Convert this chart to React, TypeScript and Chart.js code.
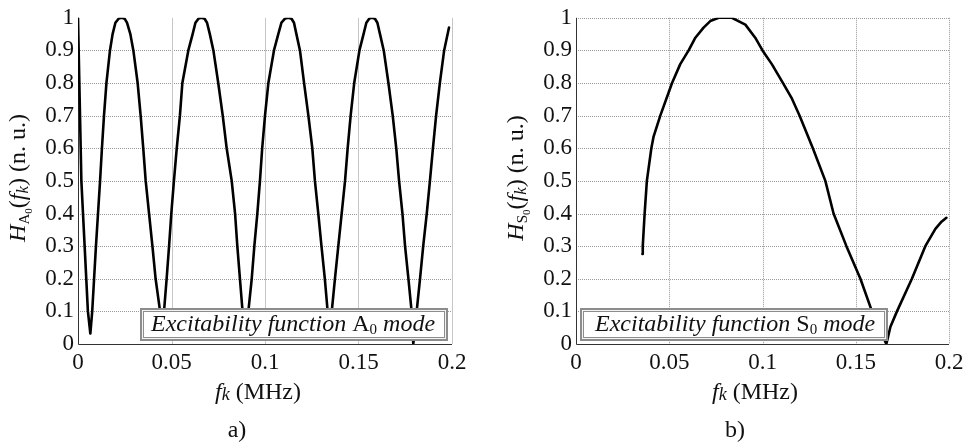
import React, { useEffect, useRef } from 'react';
import { Chart, registerables } from 'chart.js';

Chart.register(...registerables);

const xTickLabels = ['0', '0.05', '0.1', '0.15', '0.2'];
const yTickLabels = ['0', '0.1', '0.2', '0.3', '0.4', '0.5', '0.6', '0.7', '0.8', '0.9', '1'];
const xGridValues = [0.05, 0.1, 0.15, 0.2];

const a0Freq = [
  0, 0.0018, 0.0053, 0.0066,
  0.0076, 0.0086, 0.0096, 0.0107, 0.0118, 0.0128, 0.0139, 0.0152, 0.0171, 0.0185, 0.02, 0.0218,
  0.0234,
  0.025, 0.0262, 0.028, 0.0296, 0.0319, 0.0335, 0.0349, 0.0362, 0.038, 0.0398, 0.0415, 0.0439,
  0.0452,
  0.046, 0.0474, 0.0487, 0.0499, 0.0513, 0.0528, 0.0545, 0.0558, 0.059, 0.0613, 0.0628, 0.0645,
  0.0661,
  0.0677, 0.069, 0.0705, 0.0724, 0.075, 0.0774, 0.0795, 0.0822, 0.084, 0.0852, 0.0866, 0.088,
  0.0895,
  0.0911, 0.0929, 0.0943, 0.0959, 0.0973, 0.0985, 0.1, 0.1018, 0.1048, 0.1071, 0.1088, 0.1108,
  0.1125,
  0.1142, 0.1155, 0.1168, 0.1187, 0.1209, 0.1232, 0.1253, 0.1267, 0.1285, 0.1302, 0.132, 0.1335,
  0.1345,
  0.1357, 0.1374, 0.1392, 0.141, 0.1428, 0.1442, 0.1458, 0.1477, 0.1505, 0.1527, 0.1542, 0.1558,
  0.1572,
  0.1588, 0.1601, 0.1615, 0.1635, 0.166, 0.1683, 0.1702, 0.1717, 0.1735, 0.1749, 0.1767, 0.1784,
  0.1793,
  0.1811, 0.1829, 0.1846, 0.1865, 0.1882, 0.1898, 0.1915, 0.1935, 0.1958, 0.1984,
];
const a0Value = [
  1, 0.5, 0.1, 0.032,
  0.1, 0.2, 0.3, 0.4, 0.5, 0.6, 0.7, 0.8, 0.9, 0.95, 0.985, 0.998,
  1,
  0.997, 0.985, 0.95, 0.9, 0.8, 0.7, 0.6, 0.5, 0.4, 0.3, 0.2, 0.1,
  0.03,
  0.1, 0.2, 0.3, 0.4, 0.5, 0.6, 0.7, 0.8, 0.9, 0.95, 0.985, 0.998,
  1,
  0.997, 0.985, 0.95, 0.9, 0.8, 0.7, 0.6, 0.5, 0.4, 0.3, 0.2, 0.1,
  0.02,
  0.1, 0.2, 0.3, 0.4, 0.5, 0.6, 0.7, 0.8, 0.9, 0.95, 0.985, 0.998,
  1,
  0.997, 0.985, 0.95, 0.9, 0.8, 0.7, 0.6, 0.5, 0.4, 0.3, 0.2, 0.1,
  0.03,
  0.1, 0.2, 0.3, 0.4, 0.5, 0.6, 0.7, 0.8, 0.9, 0.95, 0.985, 0.998,
  1,
  0.997, 0.985, 0.95, 0.9, 0.8, 0.7, 0.6, 0.5, 0.4, 0.3, 0.2, 0.1,
  0,
  0.1, 0.2, 0.3, 0.4, 0.5, 0.6, 0.7, 0.8, 0.9, 0.97,
];

const s0Freq = [
  0.0356, 0.0358, 0.0368, 0.038, 0.0404, 0.0416, 0.0452, 0.0515, 0.0559, 0.0604, 0.064, 0.0684,
  0.072, 0.0765, 0.08, 0.0836, 0.0908, 0.0961, 0.1, 0.105, 0.111, 0.1158, 0.1199, 0.127, 0.1337,
  0.1381, 0.145, 0.1525, 0.1587, 0.1625, 0.1664, 0.1686, 0.1721, 0.1801, 0.1873, 0.1927, 0.196,
  0.1986,
];
const s0Value = [
  0.276, 0.3, 0.4, 0.5, 0.6, 0.636, 0.7, 0.8, 0.858, 0.9, 0.939, 0.97,
  0.99, 1, 1, 1, 0.979, 0.939, 0.9, 0.858, 0.8, 0.752, 0.7, 0.6, 0.5,
  0.4, 0.3, 0.2, 0.1, 0.05, 0, 0.053, 0.1, 0.2, 0.3, 0.353, 0.375,
  0.387,
];

const SERIF = "'Liberation Serif', 'Times New Roman', serif";
const TICK_SIZE = 23;
const TEXT_SIZE = 24;

type Part = { t: string; it?: boolean; size?: number; dy?: number };

const fontOf = (p: Part) => `${p.it ? 'italic ' : ''}${p.size || TEXT_SIZE}px ${SERIF}`;

function drawRich(ctx: CanvasRenderingContext2D, parts: Part[], x: number, y: number, align: 'left' | 'center') {
  const widths = parts.map((p) => {
    ctx.font = fontOf(p);
    return ctx.measureText(p.t).width;
  });
  const total = widths.reduce((a, b) => a + b, 0);
  let cx = align === 'center' ? x - total / 2 : x;
  ctx.textAlign = 'left';
  ctx.textBaseline = 'alphabetic';
  parts.forEach((p, i) => {
    ctx.font = fontOf(p);
    ctx.fillText(p.t, cx, y + (p.dy || 0));
    cx += widths[i];
  });
}

type PanelCfg = {
  yAxisWidth: number;
  padRight: number;
  freq: number[];
  value: number[];
  modeLetter: string;
  yTitleX: number;
  xTitleX: number;
  labelX: number;
  label: string;
  box: [number, number, number, number];
  boxTextX: number;
  topGrid: boolean;
  verticalSolid: boolean;
};

function makeChart(canvas: HTMLCanvasElement, cfg: PanelCfg) {
  const data = cfg.freq.map((f, i) => ({ x: f, y: cfg.value[i] }));
  const overlay = {
    id: 'overlay',
    beforeDatasetsDraw(chart: any) {
      const ctx = chart.ctx as CanvasRenderingContext2D;
      const xs = chart.scales.x;
      const ys = chart.scales.y;
      const { left, right, top, bottom } = chart.chartArea;
      ctx.save();
      ctx.lineWidth = 1;
      ctx.strokeStyle = '#9a9a9a';
      ctx.setLineDash([1, 1]);
      for (let i = 1; i < yTickLabels.length; i++) {
        const v = Number(yTickLabels[i]);
        if (v === 1 && !cfg.topGrid) continue;
        const py = Math.round(ys.getPixelForValue(v)) + 0.5;
        ctx.beginPath();
        ctx.moveTo(left, py);
        ctx.lineTo(right, py);
        ctx.stroke();
      }
      if (cfg.verticalSolid) {
        ctx.setLineDash([]);
        ctx.strokeStyle = '#c6c6c6';
      }
      xGridValues.forEach((v) => {
        const px = Math.round(xs.getPixelForValue(v)) + 0.5;
        ctx.beginPath();
        ctx.moveTo(px, top);
        ctx.lineTo(px, bottom);
        ctx.stroke();
      });
      ctx.setLineDash([]);
      ctx.strokeStyle = '#333';
      ctx.beginPath();
      ctx.moveTo(Math.round(left) + 0.5, top);
      ctx.lineTo(Math.round(left) + 0.5, Math.round(bottom) + 0.5);
      ctx.lineTo(right, Math.round(bottom) + 0.5);
      ctx.stroke();
      ctx.restore();
    },
    afterDraw(chart: any) {
      const ctx = chart.ctx as CanvasRenderingContext2D;
      ctx.save();
      ctx.fillStyle = '#111';
      ctx.save();
      ctx.translate(cfg.yTitleX, 178);
      ctx.rotate(-Math.PI / 2);
      drawRich(
        ctx,
        [
          { t: 'H', it: true },
          { t: cfg.modeLetter, size: 15, dy: 4 },
          { t: '0', size: 11, dy: 7 },
          { t: '(' },
          { t: 'f', it: true },
          { t: 'k', it: true, size: 17, dy: 3 },
          { t: ') (n. u.)' },
        ],
        0,
        0,
        'center'
      );
      ctx.restore();
      drawRich(ctx, [{ t: 'f', it: true }, { t: 'k', it: true, size: 18, dy: 1 }, { t: ' (MHz)' }], cfg.xTitleX, 399, 'center');
      drawRich(ctx, [{ t: cfg.label }], cfg.labelX, 437, 'center');
      const [bx, by, bw, bh] = cfg.box;
      ctx.fillStyle = '#fff';
      ctx.fillRect(bx, by, bw, bh);
      ctx.strokeStyle = '#8c8c8c';
      ctx.lineWidth = 4;
      ctx.strokeRect(bx + 2, by + 2, bw - 4, bh - 4);
      ctx.strokeStyle = '#f4f4f4';
      ctx.lineWidth = 1;
      ctx.strokeRect(bx + 2.5, by + 2.5, bw - 5, bh - 5);
      ctx.fillStyle = '#111';
      drawRich(
        ctx,
        [
          { t: 'Excitability function ', it: true },
          { t: cfg.modeLetter },
          { t: '0', size: 15, dy: 3 },
          { t: ' mode', it: true },
        ],
        cfg.boxTextX,
        by + 23,
        'left'
      );
      ctx.restore();
    },
  };

  return new Chart(canvas, {
    type: 'line',
    data: {
      datasets: [
        {
          data,
          borderColor: '#000',
          borderWidth: 2.6,
          pointRadius: 0,
          tension: 0,
          fill: false,
          borderJoinStyle: 'round',
          borderCapStyle: 'round',
        } as any,
      ],
    },
    options: {
      animation: false,
      responsive: false,
      maintainAspectRatio: false,
      layout: { padding: { left: 0, right: cfg.padRight, top: 13, bottom: 0 } },
      plugins: { legend: { display: false }, tooltip: { enabled: false } },
      scales: {
        x: {
          type: 'linear',
          min: 0,
          max: 0.2,
          afterFit: (s: any) => {
            s.height = 101;
          },
          ticks: {
            stepSize: 0.05,
            autoSkip: false,
            maxRotation: 0,
            padding: 5,
            color: '#111',
            font: { family: SERIF, size: TICK_SIZE },
            callback: (_v: any, i: number) => xTickLabels[i],
          },
          grid: { display: false, drawTicks: false },
          border: { display: false },
        },
        y: {
          type: 'linear',
          min: 0,
          max: 1,
          afterFit: (s: any) => {
            s.width = cfg.yAxisWidth;
          },
          ticks: {
            stepSize: 0.1,
            autoSkip: false,
            padding: 4,
            color: '#111',
            font: { family: SERIF, size: TICK_SIZE },
            callback: (_v: any, i: number) => yTickLabels[i],
          },
          grid: { display: false, drawTicks: false },
          border: { display: false },
        },
      },
    },
    plugins: [overlay as any],
  });
}

export default function App() {
  const leftRef = useRef<HTMLCanvasElement>(null);
  const rightRef = useRef<HTMLCanvasElement>(null);

  useEffect(() => {
    const c1 = makeChart(leftRef.current!, {
      yAxisWidth: 78,
      padRight: 28,
      freq: a0Freq,
      value: a0Value,
      modeLetter: 'A',
      yTitleX: 25,
      xTitleX: 258,
      labelX: 237,
      label: 'a)',
      box: [140, 308, 308, 33],
      boxTextX: 151,
      topGrid: false,
      verticalSolid: true,
    });
    const c2 = makeChart(rightRef.current!, {
      yAxisWidth: 96,
      padRight: 23,
      freq: s0Freq,
      value: s0Value,
      modeLetter: 'S',
      yTitleX: 43,
      xTitleX: 275,
      labelX: 255,
      label: 'b)',
      box: [100, 308, 308, 33],
      boxTextX: 115,
      topGrid: true,
      verticalSolid: false,
    });
    return () => {
      c1.destroy();
      c2.destroy();
    };
  }, []);

  return (
    <div style={{ position: 'absolute', left: 0, top: 0, width: 972, height: 445, background: '#fff' }}>
      <canvas ref={leftRef} width={480} height={445} style={{ position: 'absolute', left: 0, top: 0, width: 480, height: 445 }} />
      <canvas ref={rightRef} width={492} height={445} style={{ position: 'absolute', left: 480, top: 0, width: 492, height: 445 }} />
    </div>
  );
}
